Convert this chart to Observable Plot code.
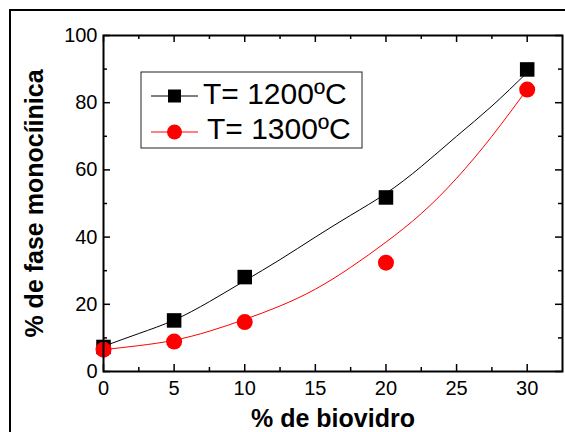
<!DOCTYPE html>
<html><head><meta charset="utf-8">
<script src="https://cdn.jsdelivr.net/npm/d3@7"></script>
<script src="https://cdn.jsdelivr.net/npm/@observablehq/plot@0.6"></script>
<style>
body{margin:0;background:#fff;}
#wrap{position:relative;width:565px;height:432px;overflow:hidden;font-family:"Liberation Sans",Arial,sans-serif;background:#fff;}
#border{position:absolute;left:9px;top:9px;width:600px;height:500px;border-left:2.5px solid #000;border-top:2.5px solid #000;pointer-events:none;}
#wrap svg{position:absolute;left:0;top:0;}
</style></head><body><div id="wrap"></div>
<script>
const xPct = [0, 5, 10, 20, 30];
const y1200 = [7.3, 15.2, 28.1, 51.8, 89.9];
const y1300 = [6.5, 8.9, 14.7, 32.4, 83.9];
const fitX = [0, 2.5, 5, 7.5, 10, 12.5, 15, 17.5, 20, 22.5, 25, 27.5, 30];
const fit1200 = [7.5, 11.3, 15.3, 20.8, 27, 33.3, 40, 46.5, 53, 61, 70, 79, 89];
const fit1300 = [6.5, 7.7, 9.3, 12, 15.5, 19.5, 24.5, 31, 38.5, 47, 57.5, 70, 84];
const xMajor = [0, 5, 10, 15, 20, 25, 30];
const xMinor = [2.5, 7.5, 12.5, 17.5, 22.5, 27.5];
const yMajor = [0, 20, 40, 60, 80, 100];
const yMinor = [10, 30, 50, 70, 90];
const legendLabels = ["T= 1200ºC", "T= 1300ºC"];
const seriesColors = ["#000000", "#ff0000"];
const xTitle = "% de biovidro";
const yTitle = "% de fase monocíinica";

const pts1200 = xPct.map((x, i) => ({x, y: y1200[i]}));
const pts1300 = xPct.map((x, i) => ({x, y: y1300[i]}));
const line1200 = fitX.map((x, i) => ({x, y: fit1200[i]}));
const line1300 = fitX.map((x, i) => ({x, y: fit1300[i]}));

const W = 565, H = 432, mL = 103, mR = 3, mT = 35, mB = 61;
const pw = W - mL - mR, ph = H - mT - mB;
const majorLen = 7, minorLen = 4;

const chart = Plot.plot({
  width: W, height: H,
  marginLeft: mL, marginRight: mR, marginTop: mT, marginBottom: mB,
  style: {fontFamily: "'Liberation Sans', Arial, sans-serif", color: "#000", background: "#fff", overflow: "visible"},
  x: {domain: [0, 32.5]},
  y: {domain: [0, 100]},
  marks: [
    Plot.axisX({ticks: xMajor, tickSize: 0, tickPadding: 9, fontSize: 20, label: null}),
    Plot.axisY({ticks: yMajor, tickSize: 0, tickPadding: 6, fontSize: 20, label: null}),
    Plot.tickX(xMajor, {x: d => d, insetTop: ph - majorLen, stroke: "#000", strokeWidth: 1.5}),
    Plot.tickX(xMinor, {x: d => d, insetTop: ph - minorLen, stroke: "#000", strokeWidth: 1.5}),
    Plot.tickX(xMajor, {x: d => d, insetBottom: ph - majorLen, stroke: "#000", strokeWidth: 1.5}),
    Plot.tickX(xMinor, {x: d => d, insetBottom: ph - minorLen, stroke: "#000", strokeWidth: 1.5}),
    Plot.tickY(yMajor, {y: d => d, insetRight: pw - majorLen, stroke: "#000", strokeWidth: 1.5}),
    Plot.tickY(yMinor, {y: d => d, insetRight: pw - minorLen, stroke: "#000", strokeWidth: 1.5}),
    Plot.tickY(yMajor, {y: d => d, insetLeft: pw - majorLen, stroke: "#000", strokeWidth: 1.5}),
    Plot.tickY(yMinor, {y: d => d, insetLeft: pw - minorLen, stroke: "#000", strokeWidth: 1.5}),
    Plot.line(line1200, {x: "x", y: "y", stroke: seriesColors[0], strokeWidth: 1, curve: "natural"}),
    Plot.dot(pts1200, {x: "x", y: "y", symbol: "square", r: 8.2, fill: seriesColors[0], stroke: "none"}),
    Plot.line(line1300, {x: "x", y: "y", stroke: seriesColors[1], strokeWidth: 1, curve: "natural"}),
    Plot.dot(pts1300, {x: "x", y: "y", symbol: "circle", r: 8, fill: seriesColors[1], stroke: "none"}),
    Plot.frame({stroke: "#000", strokeWidth: 2}),
    Plot.text([yTitle], {text: d => d, frameAnchor: "left", dx: -69, rotate: -90, fontSize: 25, fontWeight: "bold", lineAnchor: "middle", textAnchor: "middle", fill: "#000"}),
    Plot.text([xTitle], {text: d => d, frameAnchor: "bottom", dy: 38, lineAnchor: "top", fontSize: 25, fontWeight: "bold", fill: "#000"})
  ]
});

const wrap = document.getElementById("wrap");
wrap.appendChild(chart);

const leg = d3.select(wrap).append("svg")
  .attr("width", W).attr("height", H)
  .style("position", "absolute").style("left", "0px").style("top", "0px");
leg.append("rect").attr("x", 141).attr("y", 72).attr("width", 221).attr("height", 76)
  .attr("fill", "#fff").attr("stroke", "#222").attr("stroke-width", 1);
const rowsY = [96, 132];
const textX = [203, 207];
const baseY = [104, 139];
legendLabels.forEach((lab, i) => {
  leg.append("line").attr("x1", 151).attr("x2", 198).attr("y1", rowsY[i]).attr("y2", rowsY[i])
    .attr("stroke", seriesColors[i]).attr("stroke-width", 1);
  if (i === 0) {
    leg.append("rect").attr("x", 174.5 - 6.5).attr("y", rowsY[i] - 6.5).attr("width", 13).attr("height", 13).attr("fill", seriesColors[i]);
  } else {
    leg.append("circle").attr("cx", 174.5).attr("cy", rowsY[i]).attr("r", 7.5).attr("fill", seriesColors[i]);
  }
  leg.append("text").attr("x", textX[i]).attr("y", baseY[i]).attr("font-size", 30)
    .attr("font-family", "'Liberation Sans', Arial, sans-serif").attr("fill", "#000").text(lab);
});

const b = document.createElement("div");
b.id = "border";
wrap.appendChild(b);
</script></body></html>
